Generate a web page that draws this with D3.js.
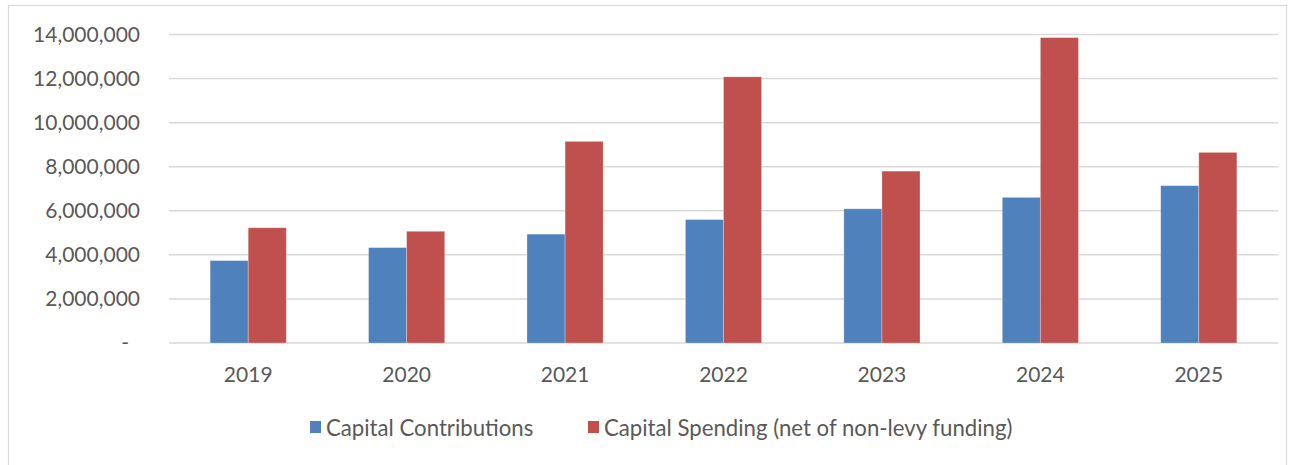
<!DOCTYPE html>
<html><head><meta charset="utf-8">
<script src="https://cdn.jsdelivr.net/npm/d3@7"></script>
<style>
body{margin:0;background:#fff;}
text{font-family:Lato,"Open Sans",sans-serif;fill:#595959;}
</style></head>
<body><svg id="c" width="1289" height="465"></svg>
<script>
const categories = ["2019","2020","2021","2022","2023","2024","2025"];
const seriesNames = ["Capital Contributions","Capital Spending (net of non-levy funding)"];
const contributions = [3740000,4330000,4940000,5600000,6090000,6610000,7140000];
const spending = [5230000,5070000,9150000,12080000,7800000,13860000,8650000];
const yTicks = [0,2000000,4000000,6000000,8000000,10000000,12000000,14000000];
const colors = ["#4F81BD","#C0504D"];

(function(){
const svg = d3.select("#c");
svg.append("rect").attr("x",8.5).attr("y",5.5).attr("width",1278).attr("height",470)
  .attr("fill","#fff").attr("stroke","#D9D9D9").attr("stroke-width",1.2);

const pLeft=169, pRight=1278, pTop=34.5, pBottom=343;
const x = d3.scaleBand().domain(categories).range([pLeft,pRight]).padding(0);
const inner = d3.scaleBand().domain([0,1]).range([0,x.bandwidth()]).paddingOuter(1.08).paddingInner(0);
const y = d3.scaleLinear().domain([0,14000000]).range([pBottom,pTop]);

svg.append("g").selectAll("line").data(yTicks).join("line")
  .attr("x1",pLeft).attr("x2",pRight).attr("y1",d=>y(d)).attr("y2",d=>y(d))
  .attr("stroke","#D9D9D9").attr("stroke-width",1.5);

const fmt = d3.format(",");
const yAxis = d3.axisLeft(y).tickValues(yTicks).tickSize(0).tickPadding(0)
  .tickFormat(d=> d===0 ? "-" : fmt(d));
const ya = svg.append("g").attr("transform",`translate(140,0)`).call(yAxis);
ya.select(".domain").remove();
ya.selectAll("text").attr("font-size",21).attr("fill","#595959")
  .style("font-family","Lato").attr("dx",d=>d===0?-11:0);

const data = categories.map((c,i)=>({c, v:[contributions[i],spending[i]]}));
const g = svg.append("g");
data.forEach(d=>{
  d.v.forEach((v,s)=>{
    g.append("rect").attr("x",x(d.c)+inner(s)).attr("y",y(v))
      .attr("width",inner.bandwidth()).attr("height",y(0)-y(v))
      .attr("fill",colors[s]).attr("stroke","rgba(255,255,255,0.35)").attr("stroke-width",0.8);
  });
});

const xAxis = d3.axisBottom(x).tickSize(0).tickPadding(0);
const xa = svg.append("g").attr("transform",`translate(0,${pBottom})`).call(xAxis);
xa.select(".domain").remove();
xa.selectAll("text").attr("font-size",21).attr("fill","#595959").style("font-family","Lato")
  .attr("dy",null).attr("y",39);

const legX = [310,588];
seriesNames.forEach((n,i)=>{
  svg.append("rect").attr("x",legX[i]).attr("y",421).attr("width",11).attr("height",12).attr("fill",colors[i]);
  svg.append("text").attr("x",legX[i]+16).attr("y",436).attr("font-size",22.2).text(n);
});
})();
</script></body></html>
